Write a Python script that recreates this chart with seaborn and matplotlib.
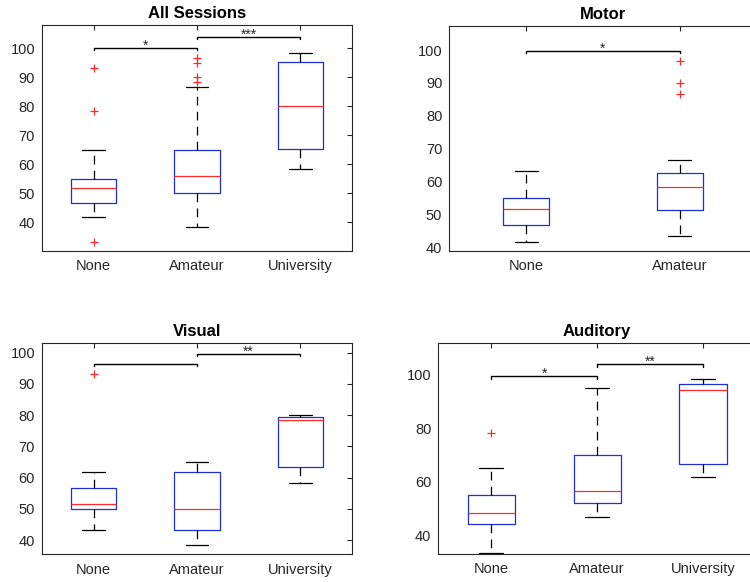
import matplotlib
matplotlib.use("Agg")
import matplotlib.pyplot as plt
import numpy as np
import pandas as pd
import seaborn as sns

sns.set_theme(style="white")
plt.rcParams['font.family'] = ['Liberation Sans', 'DejaVu Sans']

# scores per group (percent correct)
groups3 = ["None", "Amateur", "University"]
groups2 = ["None", "Amateur"]

all_none = [33.33, 41.67, 45.0, 46.67, 48.33, 50.0, 51.67, 53.33, 53.33, 55.0, 65.0, 78.33, 93.33]
all_amateur = [38.33, 41.67, 45.0, 46.67, 48.33, 50.0, 51.67, 53.33, 53.33, 55.0, 55.83,
               56.67, 58.33, 60.0, 63.33, 65.0, 86.67, 88.33, 90.0, 95.0, 96.67]
all_univ = [58.33, 61.67, 65.4, 71.67, 80.0, 88.33, 95.4, 96.67, 98.33]

motor_none = [41.67, 45.0, 46.67, 50.0, 51.67, 53.33, 55.0, 60.0, 63.33]
motor_amateur = [43.33, 46.67, 48.33, 50.0, 51.25, 53.33, 55.0, 56.67, 58.33,
                 60.0, 60.0, 61.67, 62.5, 66.67, 86.67, 90.0, 96.67]

visual_none = [43.33, 46.67, 50.0, 50.0, 51.67, 55.0, 56.67, 61.67, 93.33]
visual_amateur = [38.33, 40.0, 43.33, 46.67, 50.0, 55.0, 61.67, 63.33, 65.0]
visual_univ = [58.33, 61.67, 63.33, 71.67, 78.33, 78.33, 79.5, 80.0, 80.0]

aud_none = [33.33, 40.0, 44.17, 46.67, 48.33, 51.67, 55.0, 65.0, 78.33]
aud_amateur = [46.67, 50.0, 52.08, 55.0, 56.67, 63.33, 70.0, 83.33, 95.0]
aud_univ = [61.67, 65.0, 66.67, 88.33, 94.17, 95.0, 96.67, 98.33, 98.33]

# significance brackets: (from group, to group, height, label)
sig_all = [(0, 1, 100.0, "*"), (1, 2, 103.8, "***")]
sig_motor = [(0, 1, 99.7, "*")]
sig_visual = [(0, 1, 96.4, ""), (1, 2, 99.6, "**")]
sig_aud = [(0, 1, 99.4, "*"), (1, 2, 103.9, "**")]

panels = [
    dict(title="All Sessions", groups=groups3, values=[all_none, all_amateur, all_univ],
         sig=sig_all, rect=[0.056, 0.5687, 0.4133, 0.3883], ylim=(30.1, 108),
         yticks=range(40, 101, 10), width=0.44),
    dict(title="Motor", groups=groups2, values=[motor_none, motor_amateur],
         sig=sig_motor, rect=[0.599, 0.5692, 0.41, 0.386], ylim=(39, 107.3),
         yticks=range(40, 101, 10), width=0.30),
    dict(title="Visual", groups=groups3, values=[visual_none, visual_amateur, visual_univ],
         sig=sig_visual, rect=[0.056, 0.0476, 0.4133, 0.3636], ylim=(35.5, 103.2),
         yticks=range(40, 101, 10), width=0.44),
    dict(title="Auditory", groups=groups3, values=[aud_none, aud_amateur, aud_univ],
         sig=sig_aud, rect=[0.5844, 0.0481, 0.4236, 0.363], ylim=(33, 112),
         yticks=range(40, 101, 20), width=0.445),
]

axis_col = "#262626"
fig = plt.figure(figsize=(7.5, 5.82), dpi=100)

for p in panels:
    ax = fig.add_axes(p["rect"])
    df = pd.DataFrame({
        "group": np.repeat(p["groups"], [len(v) for v in p["values"]]),
        "score": np.concatenate(p["values"]),
    })
    sns.boxplot(data=df, x="group", y="score", order=p["groups"], ax=ax,
                fill=False, width=p["width"], linewidth=0.9, whis=1.5,
                boxprops=dict(color="#1f2fd0"),
                medianprops=dict(color="#ff2a2a"),
                whiskerprops=dict(color="black", linestyle=(0, (7, 5))),
                capprops=dict(color="black"),
                flierprops=dict(marker="+", markeredgecolor="#ff2a2a",
                                markerfacecolor="none", markersize=6, markeredgewidth=0.9))
    lo, hi = p["ylim"]
    d = 0.01 * (hi - lo)
    for i, j, y, lab in p["sig"]:
        ax.plot([i, i, j, j], [y - d, y, y, y - d], color="black", lw=1.0)
        if lab:
            ax.annotate(lab, ((i + j) / 2, y), xytext=(0, -1), textcoords="offset points",
                        ha="center", va="baseline", fontsize=10, color=axis_col)
    ax.set_xlim(-0.5, len(p["groups"]) - 0.5)
    ax.set_ylim(lo, hi)
    ax.set_yticks(list(p["yticks"]))
    ax.set_xlabel("")
    ax.set_ylabel("")
    ax.set_title(p["title"], fontsize=12, fontweight="bold", pad=5, color="black")
    ax.tick_params(direction="in", top=True, right=True, length=3.5, width=0.8,
                   labelsize=10.5, colors=axis_col, labelcolor=axis_col)
    ax.tick_params(axis="x", pad=6)
    ax.tick_params(axis="y", pad=5)
    for s in ax.spines.values():
        s.set_color(axis_col)
        s.set_linewidth(0.8)

fig.savefig("out.png", dpi=100)
